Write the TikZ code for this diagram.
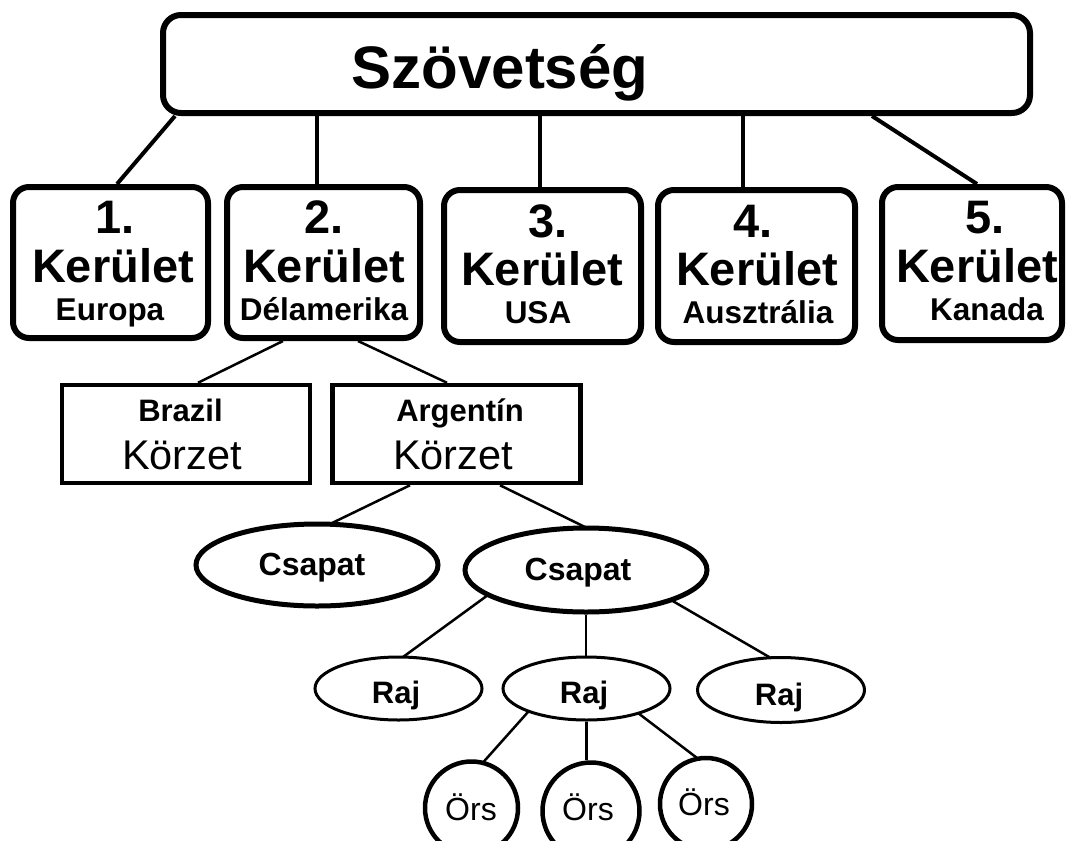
\documentclass[tikz,border=0pt]{standalone}
\usepackage{fontspec}
\setmainfont{Liberation Sans}
\usetikzlibrary{shapes.geometric,calc}
\newcommand\fz[1]{\fontsize{#1}{#1}\selectfont}
\begin{document}
\begin{tikzpicture}[x=1pt,y=-1pt,
  topbox/.style={draw,line width=6,rounded corners=18,inner sep=0},
  kbox/.style={draw,line width=6,rounded corners=16,inner sep=0},
  zbox/.style={draw,line width=4.5,inner sep=0,minimum height=98,minimum width=248},
  csbox/.style={draw,ellipse,line width=5,inner sep=0,minimum width=242},
  rajbox/.style={draw,ellipse,line width=3,inner sep=0,minimum width=167},
  orsbox/.style={draw,circle,line width=4.5,inner sep=0},
  txt/.style={inner sep=0,anchor=base},
  big/.style={txt,font=\fz{47}\bfseries},
  sub/.style={txt,font=\fz{31.5}\bfseries},
  cst/.style={txt,font=\fz{32}\bfseries},
  rajt/.style={txt,font=\fz{31}\bfseries},
  orst/.style={txt,font=\fz{32}},
  thick3/.style={line width=4},
  thin2/.style={line width=2.5}]
\useasboundingbox (0,0) rectangle (1066,841);
\fill[white] (0,0) rectangle (1066,841);

% top
\node[topbox,minimum width=867,minimum height=98] (top) at (596.5,64) {};
\node[txt,font=\fz{60}\bfseries] (topt) at (500,88) {Szövetség};

% districts
\node[kbox,minimum width=195,minimum height=151] (k1) at (110.5,262.5) {};
\node[kbox,minimum width=193,minimum height=151] (k2) at (323.5,262.5) {};
\node[kbox,minimum width=197,minimum height=152] (k3) at (542.5,266) {};
\node[kbox,minimum width=197,minimum height=152] (k4) at (756.5,266) {};
\node[kbox,minimum width=180,minimum height=153] (k5) at (972,263.5) {};

\node[big] (k1a) at (115,233) {1.};
\node[big] (k1b) at (113,282) {Kerület};
\node[sub] (k1c) at (110,320) {Europa};
\node[big] (k2a) at (324,233) {2.};
\node[big] (k2b) at (324,282) {Kerület};
\node[sub] (k2c) at (324,320) {Délamerika};
\node[big] (k3a) at (548,237) {3.};
\node[big] (k3b) at (542,285) {Kerület};
\node[sub] (k3c) at (538,323) {USA};
\node[big] (k4a) at (753,237) {4.};
\node[big] (k4b) at (757,285) {Kerület};
\node[sub] (k4c) at (758,323) {Ausztrália};
\node[big] (k5a) at (985,233) {5.};
\node[big] (k5b) at (977,282) {Kerület};
\node[sub] (k5c) at (987,320) {Kanada};

% regions
\node[zbox] (br) at (186,434) {};
\node[zbox] (ar) at (456.5,434) {};
\node[txt,font=\fz{31}\bfseries] (brt) at (180.5,421) {Brazil};
\node[txt,font=\fz{41.5}] (brk) at (182,469) {Körzet};
\node[txt,font=\fz{31}\bfseries] (art) at (460,421) {Argentín};
\node[txt,font=\fz{41.5}] (ark) at (453,469) {Körzet};

% troops
\node[csbox,minimum height=82] (cs1) at (317,565) {};
\node[csbox,minimum height=84] (cs2) at (586,570) {};
\node[cst] (cs1t) at (312,575) {Csapat};
\node[cst] (cs2t) at (578,580) {Csapat};

% patrols
\node[rajbox,minimum height=63] (r1) at (398.5,688.5) {};
\node[rajbox,minimum height=63] (r2) at (586.5,688.5) {};
\node[rajbox,minimum height=65] (r3) at (781,690) {};
\node[rajt] (r1t) at (396,703) {Raj};
\node[rajt] (r2t) at (584,703) {Raj};
\node[rajt] (r3t) at (779,705) {Raj};

% ors
\node[orsbox,minimum size=93] (o1) at (471.5,808) {};
\node[orsbox,minimum size=97] (o2) at (591,811) {};
\node[orsbox,minimum size=92] (o3) at (706,804) {};
\node[orst] (o1t) at (471,820) {Örs};
\node[orst] (o2t) at (588,820) {Örs};
\node[orst] (o3t) at (704,815) {Örs};

% connectors
\coordinate (c2) at ($(k2.north)+(-6.5,0)$);
\coordinate (c3) at ($(k3.north)+(-3,0)$);
\coordinate (c4) at ($(k4.north)+(-13.5,0)$);
\draw[thick3] ($(top.south west)+(15,0)$) -- ($(k1.north)+(6.5,0)$);
\draw[thick3] (c2 |- top.south) -- (c2);
\draw[thick3] (c3 |- top.south) -- (c3);
\draw[thick3] (c4 |- top.south) -- (c4);
\draw[thick3] ($(top.south west)+(712,0)$) -- ($(k5.north)+(5,0)$);

\draw[thin2] ($(k2.south)+(-40.5,0)$) -- ($(br.north)+(12,0)$);
\draw[thin2] ($(k2.south)+(34.5,0)$) -- ($(ar.north)+(-9.5,0)$);
\draw[thin2] ($(ar.south)+(-46.5,0)$) -- ($(cs1.center)+(13,-41)$);
\draw[thin2] ($(ar.south)+(43.5,0)$) -- ($(cs2.center)+(1,-42)$);
\draw[thin2] ($(cs2.center)+(-98,25)$) -- ($(r1.center)+(4.5,-31.5)$);
\draw[thin2] (cs2.south) -- (cs2.south |- r2.north);
\draw[thin2] ($(cs2.center)+(85,30)$) -- ($(r3.center)+(-11,-32.5)$);
\draw[thin2] ($(r2.center)+(-58.5,23.5)$) -- ($(o1.center)+(11.5,-45.5)$);
\draw[thin2] (r2.south) -- (r2.south |- o2.north);
\draw[thin2] ($(r2.center)+(51.5,24.5)$) -- ($(o3.center)+(-8,-45.3)$);
\end{tikzpicture}
\end{document}
